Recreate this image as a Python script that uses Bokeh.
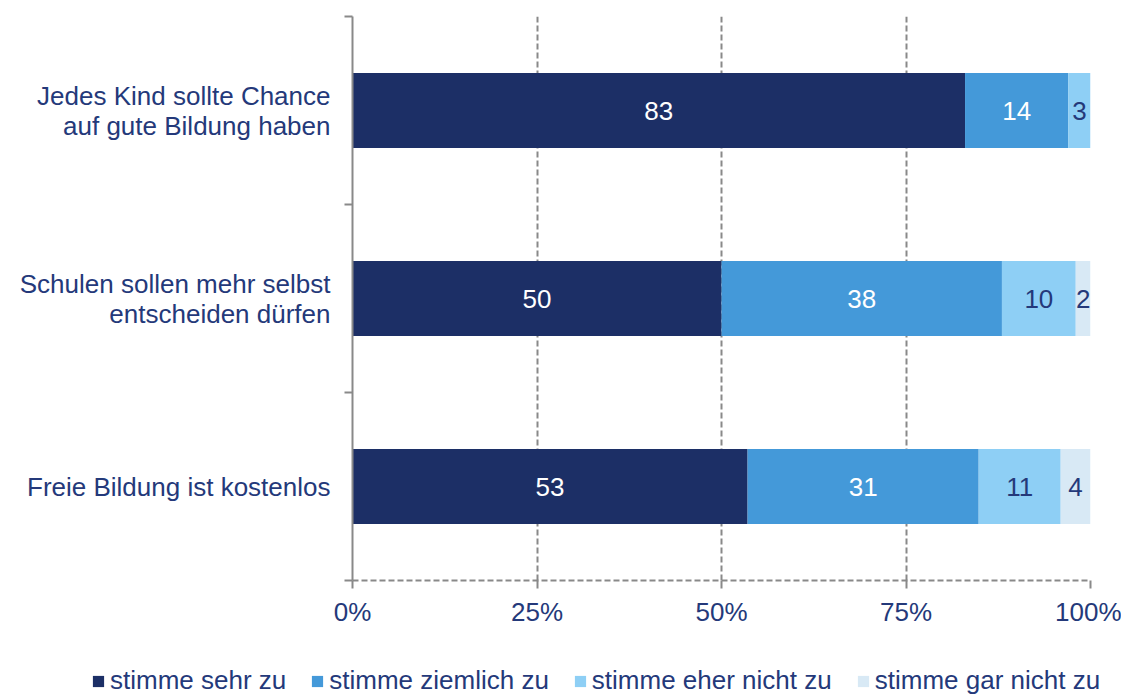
from bokeh.plotting import figure
from bokeh.layouts import column
from bokeh.models import (ColumnDataSource, Range1d, LinearAxis, FixedTicker, Grid,
                          NumeralTickFormatter, Legend, LegendItem)
from bokeh.core.properties import value
from bokeh.embed import file_html
from bokeh.resources import INLINE

categories = ["Jedes Kind sollte Chance\nauf gute Bildung haben",
              "Schulen sollen mehr selbst\nentscheiden dürfen",
              "Freie Bildung ist kostenlos"]
series = ["stimme sehr zu", "stimme ziemlich zu", "stimme eher nicht zu", "stimme gar nicht zu"]
sehr_zu = [83, 50, 53]
ziemlich_zu = [14, 38, 31]
eher_nicht_zu = [3, 10, 11]
gar_nicht_zu = [0, 2, 4]
x_ticks = [0, 0.25, 0.5, 0.75, 1.0]

colors = ["#1c2f66", "#4499d9", "#8ecff5", "#d8e9f5"]
label_colors = ["white", "white", "#24397a", "#24397a"]
NAVY = "#24397a"
GRAY = "#898989"
FONT = "Liberation Sans"

values = [sehr_zu, ziemlich_zu, eher_nicht_zu, gar_nicht_zu]
keys = ["s0", "s1", "s2", "s3"]
ypos = [i + 0.5 for i in range(len(categories))]
totals = [sum(v[i] for v in values) for i in range(len(categories))]

data = {"y": ypos}
for k, v in zip(keys, values):
    data[k] = [v[i] / totals[i] for i in range(len(categories))]
source = ColumnDataSource(data)

p = figure(width=1121, height=641, output_backend="svg", toolbar_location=None,
           x_range=Range1d(0, 1), y_range=Range1d(3, 0),
           x_axis_type=None, y_axis_type=None,
           min_border_left=352, min_border_right=31, min_border_top=16, min_border_bottom=61)
p.outline_line_color = None
p.background_fill_color = "white"
p.frame_align = False

renderers = p.hbar_stack(keys, y="y", height=0.4, source=source, color=colors, line_color=None)

# segment labels
lx, ly, lt, lc = [], [], [], []
for i in range(len(categories)):
    cum = 0.0
    for j, v in enumerate(values):
        frac = v[i] / totals[i]
        if v[i] > 0:
            lx.append(cum + frac / 2)
            ly.append(ypos[i])
            lt.append(str(v[i]))
            lc.append(label_colors[j])
        cum += frac
p.text(x=lx, y=ly, text=lt, text_color=lc, text_align="center", text_baseline="middle",
       text_font_size="26px", text_font=value(FONT))

# x axis
xaxis = LinearAxis(ticker=FixedTicker(ticks=x_ticks), formatter=NumeralTickFormatter(format="0%"))
xaxis.axis_line_color = GRAY
xaxis.axis_line_width = 2
xaxis.axis_line_dash = "6 3"
xaxis.major_tick_line_color = GRAY
xaxis.major_tick_line_width = 2
xaxis.major_tick_out = 8
xaxis.major_tick_in = 0
xaxis.minor_tick_line_color = None
xaxis.major_label_text_font_size = "26px"
xaxis.major_label_text_font = FONT
xaxis.major_label_text_color = NAVY
xaxis.major_label_standoff = 8
p.add_layout(xaxis, "below")

grid = Grid(dimension=0, ticker=FixedTicker(ticks=x_ticks[1:]))
grid.grid_line_color = GRAY
grid.grid_line_width = 2
grid.grid_line_dash = "6 3"
p.add_layout(grid)

# y axis with boundary ticks
yaxis1 = LinearAxis(ticker=FixedTicker(ticks=[0, 1, 2, 3]))
yaxis1.major_label_overrides = {0: "", 1: "", 2: "", 3: ""}
yaxis1.major_label_text_font_size = "1px"
yaxis1.axis_line_color = GRAY
yaxis1.axis_line_width = 2
yaxis1.major_tick_line_color = GRAY
yaxis1.major_tick_line_width = 2
yaxis1.major_tick_out = 8
yaxis1.major_tick_in = 0
yaxis1.minor_tick_line_color = None
yaxis1.major_label_standoff = 0
p.add_layout(yaxis1, "left")

# y axis with category labels
yaxis2 = LinearAxis(ticker=FixedTicker(ticks=ypos))
yaxis2.major_label_overrides = {y: c for y, c in zip(ypos, categories)}
yaxis2.axis_line_color = None
yaxis2.major_tick_line_color = None
yaxis2.minor_tick_line_color = None
yaxis2.major_tick_out = 0
yaxis2.major_label_text_font_size = "26px"
yaxis2.major_label_text_font = FONT
yaxis2.major_label_text_color = NAVY
yaxis2.major_label_text_line_height = 1.0
yaxis2.major_label_standoff = 14
p.add_layout(yaxis2, "left")

# legend strip below the chart (its bars lie outside its visible range)
leg = figure(width=1121, height=55, output_backend="svg", toolbar_location=None,
             x_range=Range1d(0, 1), y_range=Range1d(10, 11),
             x_axis_type=None, y_axis_type=None,
             min_border_left=0, min_border_right=0, min_border_top=0, min_border_bottom=0)
leg.outline_line_color = None
leg.frame_align = False
leg_renderers = leg.hbar_stack(keys, y="y", height=0.4, source=source, color=colors, line_color=None)
legend = Legend(items=[LegendItem(label=s, renderers=[r]) for s, r in zip(series, leg_renderers)],
                orientation="horizontal", location=(91, 0),
                glyph_width=14, glyph_height=14, label_standoff=5, spacing=24,
                label_height=30, padding=0, margin=0, border_line_color=None,
                background_fill_alpha=0,
                label_text_font_size="26px", label_text_font=FONT, label_text_color=NAVY)
leg.add_layout(legend, "center")

layout = column(p, leg, spacing=0)
open("out.html", "w").write(file_html(layout, INLINE))
